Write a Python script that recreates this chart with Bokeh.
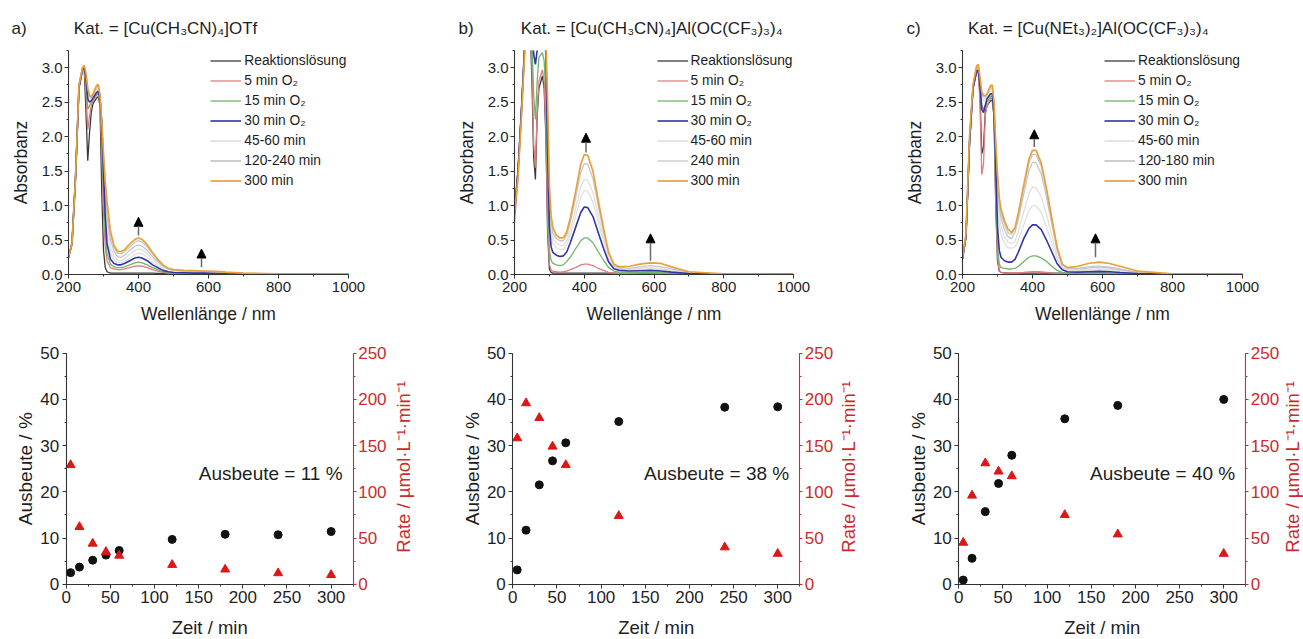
import math
from bokeh.plotting import figure
from bokeh.models import (Range1d, LinearAxis, SingleIntervalTicker, Legend, LegendItem,
                          Arrow, NormalHead, Label, NumeralTickFormatter)
from bokeh.layouts import row, column
from bokeh.embed import file_html
from bokeh.resources import INLINE

# ---------------- data: UV/Vis spectra (wavelength grid shared) ----------------
WL = [200, 210, 220, 230, 240, 245, 250, 255, 260, 265, 270, 280, 285, 290, 295, 300, 305, 310,
      320, 330, 340, 350, 360, 375, 390, 400, 410, 425, 440, 455, 470, 485, 500, 530, 560, 590,
      620, 650, 700, 800, 1000]

# panel a: [Cu(CH3CN)4]OTf
a_black = [0.25, 0.45, 1.40, 2.70, 2.96, 2.98, 2.35, 1.65, 2.05, 2.35, 2.48, 2.56, 2.58, 2.45, 1.20, 0.35, 0.10, 0.04,
           0.02, 0.02, 0.02, 0.02, 0.02, 0.02, 0.02, 0.02, 0.02, 0.02, 0.02, 0.015, 0.015, 0.01, 0.01, 0.01, 0.01, 0.01, 0.005, 0.005, 0.0, 0.0, 0.0]
a_red = [0.25, 0.45, 1.40, 2.72, 2.97, 2.98, 2.65, 2.10, 2.30, 2.45, 2.52, 2.60, 2.62, 2.50, 1.80, 0.90, 0.40, 0.20,
         0.10, 0.08, 0.07, 0.07, 0.08, 0.10, 0.12, 0.125, 0.12, 0.10, 0.07, 0.05, 0.03, 0.02, 0.015, 0.01, 0.01, 0.01, 0.01, 0.005, 0.005, 0.0, 0.0]
a_green = [0.25, 0.45, 1.40, 2.72, 2.98, 3.00, 2.80, 2.40, 2.45, 2.50, 2.55, 2.62, 2.64, 2.52, 2.00, 1.20, 0.60, 0.30,
           0.15, 0.11, 0.10, 0.10, 0.11, 0.14, 0.17, 0.18, 0.17, 0.14, 0.10, 0.07, 0.04, 0.03, 0.02, 0.015, 0.015, 0.015, 0.01, 0.01, 0.005, 0.0, 0.0]
a_blue = [0.25, 0.45, 1.40, 2.72, 2.98, 3.00, 2.85, 2.55, 2.50, 2.52, 2.56, 2.64, 2.66, 2.56, 2.20, 1.50, 0.85, 0.45,
          0.22, 0.16, 0.14, 0.14, 0.16, 0.20, 0.24, 0.25, 0.24, 0.20, 0.14, 0.10, 0.06, 0.04, 0.03, 0.025, 0.02, 0.02, 0.015, 0.01, 0.005, 0.0, 0.0]
a_g45 = [0.25, 0.45, 1.40, 2.74, 3.00, 3.02, 2.88, 2.62, 2.55, 2.55, 2.58, 2.68, 2.70, 2.58, 2.20, 1.55, 1.00, 0.62,
         0.32, 0.21, 0.18, 0.17, 0.19, 0.24, 0.29, 0.31, 0.30, 0.25, 0.18, 0.12, 0.08, 0.05, 0.04, 0.03, 0.025, 0.025, 0.02, 0.015, 0.01, 0.005, 0.0]
a_g60 = [0.25, 0.45, 1.40, 2.74, 3.00, 3.02, 2.88, 2.64, 2.57, 2.56, 2.60, 2.70, 2.72, 2.58, 2.20, 1.62, 1.10, 0.75,
         0.40, 0.27, 0.21, 0.20, 0.23, 0.29, 0.35, 0.37, 0.36, 0.30, 0.22, 0.15, 0.10, 0.07, 0.05, 0.04, 0.035, 0.03, 0.025, 0.02, 0.01, 0.005, 0.0]
a_g120 = [0.25, 0.45, 1.40, 2.75, 3.00, 3.03, 2.90, 2.68, 2.58, 2.57, 2.61, 2.72, 2.74, 2.60, 2.21, 1.68, 1.20, 0.85,
          0.50, 0.34, 0.26, 0.25, 0.28, 0.35, 0.41, 0.43, 0.41, 0.35, 0.26, 0.18, 0.12, 0.08, 0.06, 0.05, 0.045, 0.04, 0.035, 0.025, 0.015, 0.01, 0.0]
a_g240 = [0.25, 0.45, 1.40, 2.75, 3.00, 3.03, 2.90, 2.69, 2.59, 2.57, 2.61, 2.73, 2.75, 2.60, 2.21, 1.72, 1.30, 0.98,
          0.57, 0.40, 0.31, 0.30, 0.33, 0.40, 0.47, 0.49, 0.47, 0.40, 0.30, 0.20, 0.13, 0.085, 0.065, 0.055, 0.05, 0.045, 0.04, 0.03, 0.02, 0.01, 0.0]
a_orange = [0.25, 0.45, 1.40, 2.75, 3.00, 3.03, 2.92, 2.70, 2.60, 2.58, 2.62, 2.74, 2.76, 2.60, 2.22, 1.75, 1.35, 1.05,
            0.63, 0.42, 0.34, 0.33, 0.36, 0.44, 0.51, 0.53, 0.51, 0.43, 0.32, 0.22, 0.14, 0.09, 0.07, 0.06, 0.055, 0.05, 0.045, 0.035, 0.02, 0.01, 0.005]

# panel b: [Cu(CH3CN)4]Al(OC(CF3)3)4
b_black = [0.90, 1.50, 2.40, 3.40, 3.60, 3.60, 2.80, 1.70, 1.38, 2.30, 2.70, 2.88, 2.70, 2.00, 0.60, 0.08, 0.03, 0.02,
           0.02, 0.02, 0.02, 0.02, 0.02, 0.02, 0.02, 0.02, 0.02, 0.02, 0.02, 0.02, 0.02, 0.02, 0.015, 0.015, 0.015, 0.015, 0.01, 0.01, 0.005, 0.0, 0.0]
b_red = [0.75, 1.40, 2.30, 3.30, 3.60, 3.60, 3.00, 1.90, 1.55, 2.35, 2.80, 2.97, 2.80, 2.10, 0.70, 0.15, 0.06, 0.05,
         0.04, 0.035, 0.04, 0.05, 0.07, 0.10, 0.14, 0.15, 0.15, 0.13, 0.09, 0.06, 0.03, 0.02, 0.015, 0.015, 0.02, 0.02, 0.015, 0.01, 0.005, 0.0, 0.0]
b_green = [0.90, 1.50, 2.40, 3.40, 3.60, 3.60, 3.40, 2.60, 2.25, 2.80, 3.15, 3.22, 3.10, 2.60, 1.20, 0.35, 0.20, 0.16,
           0.14, 0.13, 0.14, 0.19, 0.25, 0.37, 0.49, 0.53, 0.53, 0.46, 0.33, 0.21, 0.10, 0.05, 0.035, 0.03, 0.03, 0.035, 0.03, 0.02, 0.01, 0.0, 0.0]
b_blue = [0.90, 1.50, 2.40, 3.40, 3.60, 3.60, 3.60, 3.20, 3.05, 3.25, 3.50, 3.60, 3.60, 3.20, 1.80, 0.70, 0.40, 0.32,
          0.28, 0.26, 0.27, 0.33, 0.46, 0.68, 0.90, 0.98, 0.97, 0.84, 0.61, 0.38, 0.18, 0.085, 0.06, 0.05, 0.055, 0.06, 0.05, 0.035, 0.015, 0.005, 0.0]
b_g45 = [0.90, 1.50, 2.40, 3.40, 3.60, 3.60, 3.60, 3.60, 3.60, 3.60, 3.60, 3.60, 3.60, 3.30, 2.00, 0.90, 0.55, 0.45,
         0.39, 0.36, 0.37, 0.43, 0.57, 0.84, 1.12, 1.22, 1.21, 1.05, 0.76, 0.48, 0.22, 0.10, 0.08, 0.065, 0.075, 0.085, 0.07, 0.05, 0.02, 0.005, 0.0]
b_g60 = [0.90, 1.50, 2.40, 3.40, 3.60, 3.60, 3.60, 3.60, 3.60, 3.60, 3.60, 3.60, 3.60, 3.35, 2.10, 1.00, 0.62, 0.52,
         0.45, 0.42, 0.42, 0.49, 0.65, 0.95, 1.27, 1.38, 1.37, 1.19, 0.86, 0.54, 0.25, 0.12, 0.09, 0.075, 0.09, 0.10, 0.085, 0.06, 0.025, 0.005, 0.0]
b_g240 = [0.90, 1.50, 2.40, 3.40, 3.60, 3.60, 3.60, 3.60, 3.60, 3.60, 3.60, 3.60, 3.60, 3.40, 2.30, 1.15, 0.75, 0.60,
          0.52, 0.49, 0.49, 0.57, 0.76, 1.11, 1.48, 1.61, 1.60, 1.39, 1.00, 0.63, 0.30, 0.14, 0.10, 0.09, 0.11, 0.13, 0.11, 0.08, 0.03, 0.01, 0.0]
b_orange = [0.90, 1.40, 2.30, 3.30, 3.60, 3.60, 3.60, 3.60, 3.60, 3.60, 3.60, 3.60, 3.60, 3.40, 2.50, 1.30, 0.85, 0.68,
            0.57, 0.53, 0.53, 0.62, 0.82, 1.20, 1.60, 1.74, 1.73, 1.50, 1.08, 0.68, 0.32, 0.15, 0.11, 0.12, 0.15, 0.17, 0.16, 0.11, 0.04, 0.01, 0.0]

# panel c: [Cu(NEt3)2]Al(OC(CF3)3)4
c_black = [0.23, 0.55, 1.90, 2.70, 2.93, 2.95, 2.60, 1.75, 1.85, 2.35, 2.45, 2.52, 2.53, 2.30, 1.00, 0.20, 0.05, 0.03,
           0.025, 0.02, 0.02, 0.02, 0.02, 0.02, 0.02, 0.02, 0.02, 0.02, 0.02, 0.02, 0.02, 0.02, 0.02, 0.02, 0.02, 0.02, 0.015, 0.01, 0.005, 0.0, 0.0]
c_red = [0.23, 0.55, 1.90, 2.70, 2.93, 2.95, 2.50, 1.45, 1.60, 2.30, 2.45, 2.55, 2.56, 2.30, 1.10, 0.25, 0.06, 0.03,
         0.02, 0.02, 0.02, 0.02, 0.025, 0.03, 0.038, 0.04, 0.04, 0.036, 0.03, 0.02, 0.015, 0.01, 0.01, 0.01, 0.012, 0.012, 0.01, 0.008, 0.005, 0.0, 0.0]
c_green = [0.23, 0.55, 1.90, 2.70, 2.94, 2.96, 2.75, 2.45, 2.40, 2.45, 2.50, 2.58, 2.58, 2.30, 1.30, 0.40, 0.15, 0.10,
           0.09, 0.08, 0.08, 0.09, 0.12, 0.19, 0.25, 0.27, 0.27, 0.24, 0.19, 0.12, 0.06, 0.03, 0.02, 0.02, 0.02, 0.025, 0.02, 0.015, 0.008, 0.0, 0.0]
c_blue = [0.23, 0.55, 1.90, 2.70, 2.95, 2.97, 2.75, 2.40, 2.35, 2.45, 2.55, 2.62, 2.62, 2.35, 1.60, 0.70, 0.35, 0.25,
          0.20, 0.18, 0.18, 0.22, 0.33, 0.52, 0.67, 0.72, 0.72, 0.65, 0.50, 0.33, 0.16, 0.07, 0.04, 0.035, 0.04, 0.045, 0.04, 0.03, 0.015, 0.005, 0.0]
c_g45 = [0.23, 0.55, 1.90, 2.72, 2.98, 3.00, 2.80, 2.55, 2.52, 2.54, 2.58, 2.66, 2.68, 2.42, 1.75, 1.15, 0.75, 0.58,
         0.45, 0.39, 0.38, 0.40, 0.50, 0.72, 0.93, 1.00, 1.00, 0.90, 0.69, 0.45, 0.22, 0.09, 0.06, 0.055, 0.06, 0.07, 0.06, 0.045, 0.02, 0.005, 0.0]
c_g60 = [0.23, 0.55, 1.90, 2.72, 2.99, 3.01, 2.82, 2.60, 2.55, 2.56, 2.60, 2.69, 2.70, 2.45, 1.80, 1.25, 0.88, 0.70,
         0.55, 0.47, 0.45, 0.48, 0.63, 0.91, 1.18, 1.27, 1.26, 1.13, 0.87, 0.57, 0.28, 0.11, 0.07, 0.065, 0.075, 0.085, 0.075, 0.055, 0.025, 0.005, 0.0]
c_g120 = [0.23, 0.55, 1.95, 2.74, 3.00, 3.03, 2.84, 2.62, 2.58, 2.58, 2.61, 2.72, 2.73, 2.47, 1.85, 1.35, 1.00, 0.82,
          0.65, 0.55, 0.52, 0.61, 0.81, 1.17, 1.51, 1.63, 1.62, 1.46, 1.12, 0.74, 0.36, 0.14, 0.09, 0.08, 0.095, 0.11, 0.095, 0.07, 0.03, 0.01, 0.0]
c_g180 = [0.23, 0.55, 1.95, 2.74, 3.01, 3.04, 2.85, 2.64, 2.59, 2.58, 2.62, 2.73, 2.74, 2.48, 1.88, 1.40, 1.06, 0.90,
          0.73, 0.61, 0.58, 0.66, 0.87, 1.26, 1.62, 1.74, 1.74, 1.57, 1.21, 0.79, 0.39, 0.15, 0.10, 0.09, 0.11, 0.12, 0.105, 0.08, 0.035, 0.01, 0.0]
c_orange = [0.23, 0.60, 2.00, 2.75, 3.02, 3.05, 2.86, 2.65, 2.60, 2.59, 2.62, 2.74, 2.75, 2.50, 1.90, 1.45, 1.12, 0.95,
            0.78, 0.66, 0.61, 0.68, 0.90, 1.30, 1.68, 1.80, 1.80, 1.62, 1.25, 0.82, 0.40, 0.15, 0.10, 0.12, 0.16, 0.18, 0.16, 0.12, 0.05, 0.01, 0.005]

# arrows (wavelength, start absorbance, tip absorbance)
arr_a_x = [400, 580]; arr_a_y0 = [0.565, 0.106]; arr_a_y1 = [0.83, 0.37]
arr_b_x = [405, 590]; arr_b_y0 = [1.77, 0.20]; arr_b_y1 = [2.05, 0.59]
arr_c_x = [405, 580]; arr_c_y0 = [1.85, 0.25]; arr_c_y1 = [2.10, 0.59]

# ---------------- data: kinetics ----------------
t_a = [5, 15, 30, 45, 60, 120, 180, 240, 300]
yield_a = [2.5, 3.7, 5.2, 6.3, 7.3, 9.7, 10.8, 10.7, 11.4]
rate_a = [129, 62, 44, 35, 31, 21, 16, 12, 10]

t_b = [5, 15, 30, 45, 60, 120, 240, 300]
yield_b = [3.1, 11.7, 21.5, 26.7, 30.6, 35.2, 38.3, 38.4]
rate_b = [158, 196, 180, 149, 129, 74, 40, 33]

t_c = [5, 15, 30, 45, 60, 120, 180, 300]
yield_c = [0.9, 5.6, 15.7, 21.8, 27.9, 35.8, 38.7, 40.0]
rate_c = [45, 96, 131, 122, 117, 75, 54, 33]

titles = ["a)" + "\u00a0" * 10 + "Kat. = [Cu(CH\u2083CN)\u2084]OTf",
          "b)" + "\u00a0" * 10 + "Kat. = [Cu(CH\u2083CN)\u2084]Al(OC(CF\u2083)\u2083)\u2084",
          "c)" + "\u00a0" * 10 + "Kat. = [Cu(NEt\u2083)\u2082]Al(OC(CF\u2083)\u2083)\u2084"]
yield_texts = ["Ausbeute = 11 %", "Ausbeute = 38 %", "Ausbeute = 40 %"]

# ---------------- styling / layout constants ----------------
FONT = "Liberation Sans"
TXT = "#1e1e1e"
AXC = "#333333"
AX_RED = "#cc2b2b"
TRI_RED = "#dd1616"
C_BLACK = "#3a3a3a"
C_RED = "#e27c7c"
C_GREEN = "#6db56d"
C_BLUE = "#3434a6"
C_LIGHT = "#e0e0e0"
C_MID = "#c6c6c6"
C_ORANGE = "#e9a03e"
RATE_LABEL = "Rate / \u00b5mol\u00b7L\u207b\u00b9\u00b7min\u207b\u00b9"

TOP_H = 333
BOT_H = 306
T_MAX = 325          # visible extent of the time axis (min)
T_PX = 287.0         # its length in px
Y_MAX = 50           # yield axis extent (%)
Y_PX = 231.0         # its length in px
Y0_FROM_BOTTOM = 55.3  # px between the yield=0 line and the bottom edge of the kinetics canvas


def axis_style(ax, color, tick_fs, label_fs, tick_out, tick_standoff, label_standoff):
    ax.axis_line_color = color
    ax.axis_line_width = 1.1
    ax.major_tick_line_color = color
    ax.minor_tick_line_color = color
    ax.major_tick_in = 0
    ax.major_tick_out = tick_out
    ax.minor_tick_in = 0
    ax.minor_tick_out = 2
    ax.major_label_text_color = color
    ax.major_label_text_font = FONT
    ax.major_label_text_font_size = tick_fs
    ax.major_label_standoff = tick_standoff
    ax.axis_label_text_color = color
    ax.axis_label_text_font = FONT
    ax.axis_label_text_font_size = label_fs
    ax.axis_label_text_font_style = "normal"
    ax.axis_label_standoff = label_standoff


def spectra(width, bl, br, title, title_off, curves, groups, ax_, ay0, ay1, leg_x):
    p = figure(width=width, height=TOP_H, x_range=Range1d(200, 1000), y_range=Range1d(0, 3.25),
               output_backend="svg", toolbar_location=None,
               min_border_left=bl, min_border_right=br, min_border_top=50, min_border_bottom=59,
               x_axis_label="Wellenlänge / nm", y_axis_label="Absorbanz", title=title)
    p.outline_line_color = None
    p.grid.visible = False
    p.background_fill_color = "white"
    p.border_fill_color = "white"
    p.xaxis.ticker = SingleIntervalTicker(interval=200, num_minor_ticks=2)
    p.yaxis.ticker = SingleIntervalTicker(interval=0.5, num_minor_ticks=2)
    p.yaxis.formatter = NumeralTickFormatter(format="0.0")
    axis_style(p.xaxis[0], AXC, "15px", "17.5px", 4, 3, 9)
    axis_style(p.yaxis[0], AXC, "15px", "17.5px", 4, 2, 8)
    p.xaxis.major_label_text_color = TXT
    p.yaxis.major_label_text_color = TXT
    p.xaxis.axis_label_text_color = TXT
    p.yaxis.axis_label_text_color = TXT
    p.title.align = "left"
    p.title.offset = title_off
    p.title.standoff = 26
    p.title.text_font = FONT
    p.title.text_font_size = "17px"
    p.title.text_font_style = "normal"
    p.title.text_color = TXT

    rend = {}
    for key, ys, color, lw in curves:
        rend[key] = p.line(WL, ys, line_color=color, line_width=lw)

    for x, y0, y1 in zip(ax_, ay0, ay1):
        p.add_layout(Arrow(end=NormalHead(size=9, fill_color="black", line_color="black"),
                           x_start=x, y_start=y0, x_end=x, y_end=y1,
                           line_color="#6a6a6a", line_width=1.5))

    items = [LegendItem(label=lab, renderers=[rend[k] for k in keys]) for lab, keys in groups]
    leg = Legend(items=items, location=(leg_x, 85.5))
    leg.glyph_width = 31
    leg.glyph_height = 17
    leg.label_height = 17
    leg.label_standoff = 3
    leg.spacing = 3
    leg.padding = 0
    leg.margin = 0
    leg.border_line_color = None
    leg.background_fill_alpha = 0
    leg.label_text_font = FONT
    leg.label_text_font_size = "13.8px"
    leg.label_text_color = TXT
    p.add_layout(leg)
    return p


def kinetics(width, origin_px, t, yld, rate, ann, rate_label_px):
    # The frame covers the whole canvas; all axes sit at fixed data locations,
    # so that nothing (tick labels, rotated axis titles) is clipped.
    kx = T_MAX / T_PX
    ky = Y_MAX / Y_PX
    x_start = -origin_px * kx
    x_end = x_start + width * kx
    y_start = -Y0_FROM_BOTTOM * ky
    y_end = y_start + BOT_H * ky
    p = figure(width=width, height=BOT_H, x_range=Range1d(x_start, x_end),
               y_range=Range1d(y_start, y_end), output_backend="svg", toolbar_location=None,
               min_border=0)
    p.outline_line_color = None
    p.grid.visible = False
    p.background_fill_color = "white"
    p.border_fill_color = "white"
    p.extra_y_ranges = {"rate": Range1d(5 * y_start, 5 * y_end)}

    p.xaxis.fixed_location = 0
    p.xaxis.bounds = (0, T_MAX)
    p.xaxis.ticker = SingleIntervalTicker(interval=50, num_minor_ticks=2)
    p.yaxis.fixed_location = 0
    p.yaxis.bounds = (0, Y_MAX)
    p.yaxis.ticker = SingleIntervalTicker(interval=10, num_minor_ticks=2)
    axis_style(p.xaxis[0], AXC, "17px", "19px", 4, 3, 0)
    axis_style(p.yaxis[0], AXC, "17px", "19px", 4, 3, 0)
    p.xaxis.major_label_text_color = TXT
    p.yaxis.major_label_text_color = TXT

    rax = LinearAxis(y_range_name="rate", fixed_location=T_MAX, bounds=(0, 5 * Y_MAX),
                     ticker=SingleIntervalTicker(interval=50, num_minor_ticks=2))
    axis_style(rax, AX_RED, "17px", "18px", 3, 2, 0)
    p.add_layout(rax, "right")

    p.scatter(t, yld, marker="circle", size=8, color="#111111")
    p.scatter(t, rate, marker="triangle", size=9, color=TRI_RED, y_range_name="rate")

    p.add_layout(Label(x=313, y=24, text=ann, text_align="right", text_baseline="middle",
                       text_font=FONT, text_font_size="19px", text_color=TXT))
    # axis titles
    p.add_layout(Label(x=-40.7 * kx, y=Y_MAX / 2, text="Ausbeute / %", angle=math.pi / 2,
                       text_align="center", text_baseline="middle",
                       text_font=FONT, text_font_size="19px", text_color=TXT))
    p.add_layout(Label(x=rate_label_px * kx, y=127, y_range_name="rate", text=RATE_LABEL,
                       angle=math.pi / 2, text_align="center", text_baseline="middle",
                       text_font=FONT, text_font_size="18.5px", text_color=AX_RED))
    p.add_layout(Label(x=T_MAX / 2, y=-43.5 * ky, text="Zeit / min", text_align="center",
                       text_baseline="middle", text_font=FONT, text_font_size="18.5px",
                       text_color=TXT))
    return p


def curve_set(black, red, green, blue, lights, mids, orange):
    cs = []
    for i, ys in enumerate(lights):
        cs.append(("light%d" % i, ys, C_LIGHT, 1.3))
    for i, ys in enumerate(mids):
        cs.append(("mid%d" % i, ys, C_MID, 1.3))
    cs += [("black", black, C_BLACK, 1.3), ("red", red, C_RED, 1.3), ("green", green, C_GREEN, 1.3),
           ("blue", blue, C_BLUE, 1.6), ("orange", orange, C_ORANGE, 1.7)]
    return cs


def groups_for(mid_label, nl, nm):
    return [("Reaktionslösung", ["black"]), ("5 min O\u2082", ["red"]), ("15 min O\u2082", ["green"]),
            ("30 min O\u2082", ["blue"]), ("45-60 min", ["light%d" % i for i in range(nl)]),
            (mid_label, ["mid%d" % i for i in range(nm)]), ("300 min", ["orange"])]


pa = spectra(453, 68, 105, titles[0], -57,
             curve_set(a_black, a_red, a_green, a_blue, [a_g45, a_g60], [a_g120, a_g240], a_orange),
             groups_for("120-240 min", 2, 2), arr_a_x, arr_a_y0, arr_a_y1, 142.3)
pb = spectra(447, 60, 107, titles[1], -56,
             curve_set(b_black, b_red, b_green, b_blue, [b_g45, b_g60], [b_g240], b_orange),
             groups_for("240 min", 2, 1), arr_b_x, arr_b_y0, arr_b_y1, 142.5)
pc = spectra(403, 62, 61, titles[2], -56,
             curve_set(c_black, c_red, c_green, c_blue, [c_g45, c_g60], [c_g120, c_g180], c_orange),
             groups_for("120-180 min", 2, 2), arr_c_x, arr_c_y0, arr_c_y1, 142.0)

ka = kinetics(453, 65.7, t_a, yield_a, rate_a, yield_texts[0], 337.0)
kb = kinetics(447, 59.3, t_b, yield_b, rate_b, yield_texts[1], 336.0)
kc = kinetics(403, 58.3, t_c, yield_c, rate_c, yield_texts[2], 333.5)

layout = column(row(pa, pb, pc, spacing=0), row(ka, kb, kc, spacing=0), spacing=0)

open("out.html", "w").write(file_html(layout, INLINE))
